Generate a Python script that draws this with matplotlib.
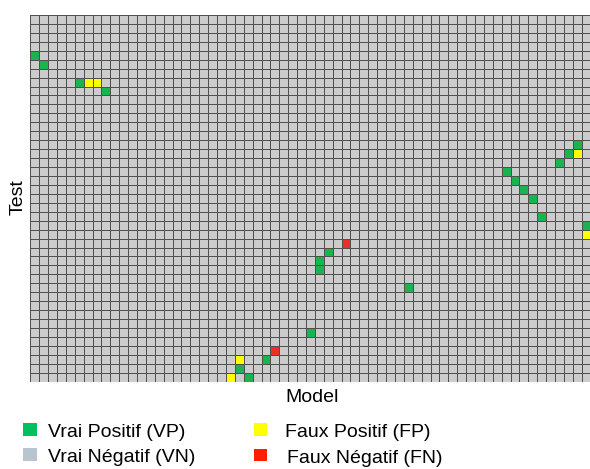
import numpy as np
import matplotlib
matplotlib.use("Agg")
import matplotlib.pyplot as plt
from matplotlib.colors import ListedColormap
from matplotlib.patches import Rectangle

plt.rcParams['font.family'] = ['Liberation Sans', 'DejaVu Sans']

n_cols = 63
n_rows = 41

# (column, row) cells, row 0 at top
vp_cells = [(0, 4), (1, 5), (5, 7), (8, 8), (61, 14), (60, 15), (59, 16), (53, 17),
            (54, 18), (55, 19), (56, 20), (57, 22), (62, 23), (33, 26), (32, 27),
            (32, 28), (42, 30), (31, 35), (26, 38), (23, 39), (24, 40)]
fp_cells = [(6, 7), (7, 7), (61, 15), (62, 24), (23, 38), (22, 40)]
fn_cells = [(35, 25), (27, 37)]

legend_labels = ["Vrai Positif (VP)", "Vrai Négatif (VN)", "Faux Positif (FP)", "Faux Négatif (FN)"]

grid = np.zeros((n_rows, n_cols), dtype=int)
for c, r in vp_cells:
    grid[r, c] = 1
for c, r in fp_cells:
    grid[r, c] = 2
for c, r in fn_cells:
    grid[r, c] = 3

cmap = ListedColormap(['#cccccc', '#19b450', '#ffff00', '#ee3024'])

W, H = 590, 469
fig = plt.figure(figsize=(W / 100, H / 100), dpi=100)
x0, x1 = 30.3, 590.6
y0, y1 = 15.0, 381.7
ax = fig.add_axes([x0 / W, 1 - y1 / H, (x1 - x0) / W, (y1 - y0) / H])
ax.pcolormesh(np.arange(n_cols + 1), np.arange(n_rows + 1), grid, cmap=cmap,
              vmin=-0.5, vmax=3.5, edgecolors='#505050', linewidth=0.7)
ax.set_xlim(0, n_cols)
ax.set_ylim(n_rows, 0)
ax.set_xticks([])
ax.set_yticks([])
for s in ax.spines.values():
    s.set_visible(False)

fs = 14
fig.text(312 / W, 1 - 397 / H, "Model", ha='center', va='center', fontsize=fs)
fig.text(18 / W, 1 - 197 / H, "Test", ha='center', va='center', rotation=90, fontsize=fs)

leg_colors = ['#00c060', '#b8c4d0', '#ffff00', '#ff2000']
leg_sq = [(23.5, 423, 36.5, 435.5), (23.5, 448, 36.5, 460.5),
          (253.5, 423, 266.5, 435.5), (253.5, 448.5, 266.5, 461)]
leg_txt = [(48, 432), (48, 457), (285, 432), (287, 458)]
for (a, b, c, d), col, (tx, ty), lab in zip(leg_sq, leg_colors, leg_txt, legend_labels):
    fig.patches.append(Rectangle((a / W, 1 - d / H), (c - a) / W, (d - b) / H,
                                 transform=fig.transFigure, facecolor=col,
                                 edgecolor='none'))
    fig.text(tx / W, 1 - ty / H, lab, ha='left', va='center', fontsize=fs)

fig.savefig("out.png", dpi=100)
